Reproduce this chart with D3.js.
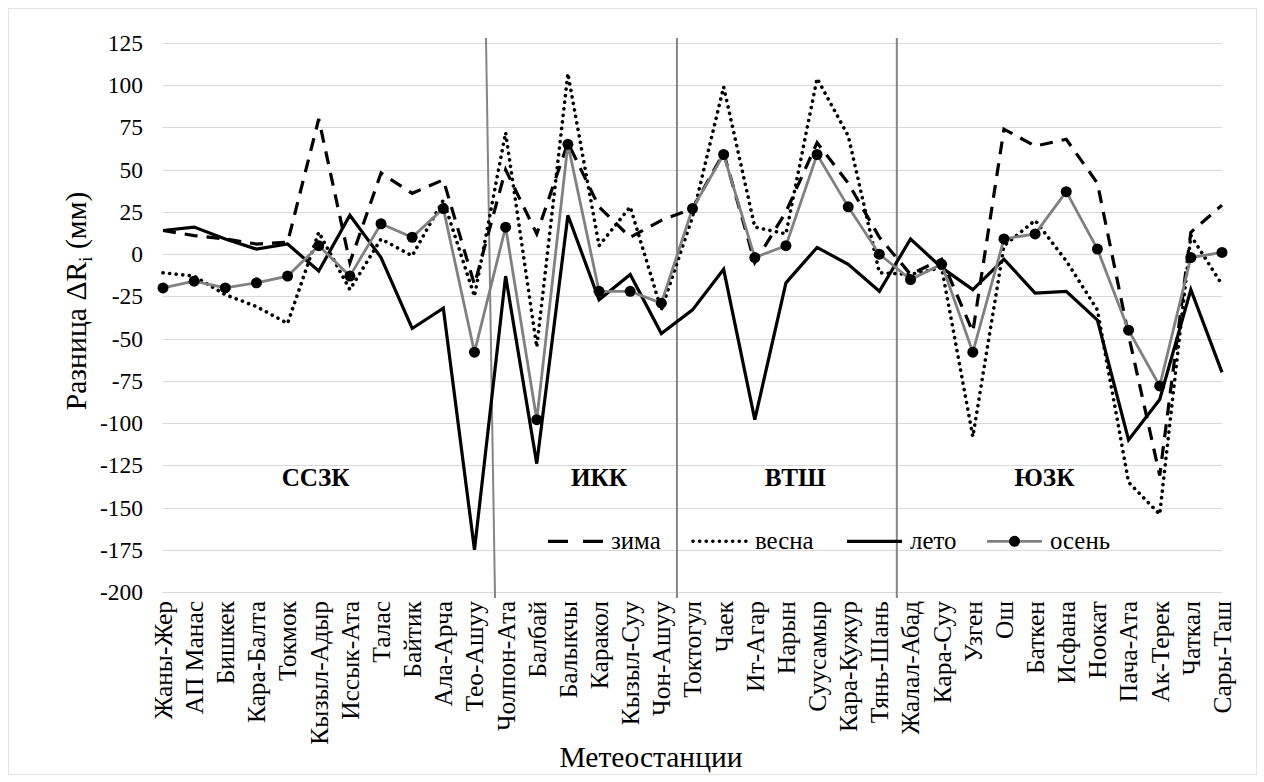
<!DOCTYPE html>
<html>
<head>
<meta charset="utf-8">
<script src="https://cdn.jsdelivr.net/npm/d3@7"></script>
<style>
  html, body { margin: 0; padding: 0; background: #fff; }
  svg { display: block; }
  svg text { font-family: "Liberation Serif", "DejaVu Serif", "Noto Serif", serif; fill: #000; }
</style>
</head>
<body>
<svg id="chart" width="1264" height="782"></svg>
<script>
// Метеостанции
const stations = ["Жаны-Жер", "АП Манас", "Бишкек", "Кара-Балта", "Токмок", "Кызыл-Адыр",
  "Иссык-Ата", "Талас", "Байтик", "Ала-Арча", "Тео-Ашуу", "Чолпон-Ата", "Балбай", "Балыкчы",
  "Каракол", "Кызыл-Суу", "Чон-Ашуу", "Токтогул", "Чаек", "Ит-Агар", "Нарын", "Суусамыр",
  "Кара-Кужур", "Тянь-Шань", "Жалал-Абад", "Кара-Суу", "Узген", "Ош", "Баткен", "Исфана",
  "Ноокат", "Пача-Ата", "Ак-Терек", "Чаткал", "Сары-Таш"];

// Разница ΔR (мм) по сезонам
const winter = [14, 11, 9, 6, 7, 80, -5, 48, 36, 44, -18, 50, 12, 66, 28, 10, 20, 27, 60, -5,
  25, 66, 42, 10, -12, -3, -46, 74, 64, 68, 42, -48, -131, 13, 29];
const spring = [-11, -13, -24, -31, -41, 13, -21, 9, -1, 32, -25, 72, -55, 107, 5, 28, -33, 22,
  99, 16, 12, 104, 70, -11, -12, -8, -108, 5, 20, -4, -33, -135, -154, 11, -18];
const summer = [14, 16, 9, 3, 6, -10, 23, -2, -44, -32, -175, -13, -124, 23, -27, -12, -47, -33,
  -9, -98, -17, 4, -6, -22, 9, -8, -21, -3, -23, -22, -39, -110, -86, -21, -70];
const autumn = [-20, -16, -20, -17, -13, 5, -13, 18, 10, 27, -58, 16, -98, 65, -22, -22, -29, 27,
  59, -2, 5, 59, 28, 0, -15, -6, -58, 9, 12, 37, 3, -45, -78, -2, 1];

const yTicks = [-200, -175, -150, -125, -100, -75, -50, -25, 0, 25, 50, 75, 100, 125];

// Регионы и границы между ними (в единицах индекса станции)
const regions = ["ССЗК", "ИКК", "ВТШ", "ЮЗК"];
const regionCenters = [4.9, 14.0, 20.3, 28.3];
const dividerTop = [10.37, 16.5, 23.56];
const dividerBottom = [10.66, 16.5, 23.56];

const seriesNames = ["зима", "весна", "лето", "осень"];

const svg = d3.select("#chart");

// подбирает кегль так, чтобы выбранные надписи заняли нужную длину
function fitFont(sel, pick, targetLength) {
  const base = 20;
  sel.attr("font-size", base);
  const nodes = sel.nodes().filter(pick);
  const len = d3.sum(nodes, n => n.getComputedTextLength());
  const size = len > 0 ? base * targetLength / len : base;
  sel.attr("font-size", size);
  return size;
}

// внешняя рамка
svg.append("rect").attr("x", 8.5).attr("y", 8.5).attr("width", 1248).attr("height", 766)
  .attr("fill", "none").attr("stroke", "#e3e3e3").attr("stroke-width", 1);

const x = d3.scalePoint().domain(d3.range(stations.length)).range([163, 1222]).padding(0);
const xi = d3.scaleLinear().domain([0, stations.length - 1]).range([163, 1222]);
const y = d3.scaleLinear().domain([-200, 125]).range([592, 43]);

// сетка
svg.append("g").selectAll("line").data(yTicks).join("line")
  .attr("x1", 163).attr("x2", 1222)
  .attr("y1", d => Math.round(y(d)) + 0.5).attr("y2", d => Math.round(y(d)) + 0.5)
  .attr("stroke", "#d9d9d9").attr("stroke-width", 1);

// ось Y (дефис вместо знака минус)
const yAxis = d3.axisLeft(y).tickValues(yTicks).tickSize(0).tickPadding(0)
  .tickFormat(d => String(d));
const gy = svg.append("g").attr("transform", "translate(143,0)").call(yAxis)
  .attr("font-family", null).attr("font-size", null);
gy.select(".domain").remove();
fitFont(gy.selectAll("text"), n => n.textContent === "-200", 43);

// ось X (подписи станций)
const xAxis = d3.axisBottom(x).tickSize(0).tickPadding(0).tickFormat(i => stations[i]);
const gx = svg.append("g").attr("transform", "translate(0,592)").call(xAxis)
  .attr("font-family", null).attr("font-size", null);
gx.select(".domain").remove();
const catText = gx.selectAll("text")
  .attr("text-anchor", "end")
  .attr("dy", null).attr("y", 0);
const catSize = fitFont(catText, n => n.textContent === "Жаны-Жер" || n.textContent === "Кызыл-Адыр", 262);
catText.attr("transform", `translate(${catSize * 0.33},9) rotate(-90)`);

// разделители регионов
svg.append("g").selectAll("line").data(dividerTop).join("line")
  .attr("x1", d => xi(d)).attr("y1", y(128))
  .attr("x2", (d, i) => xi(dividerBottom[i])).attr("y2", y(-203.5))
  .attr("stroke", "#858585").attr("stroke-width", 2);

// названия регионов
const regText = svg.append("g").selectAll("text").data(regions).join("text")
  .attr("x", (d, i) => xi(regionCenters[i])).attr("y", y(-137.5))
  .attr("text-anchor", "middle").attr("font-weight", "bold")
  .text(d => d);
fitFont(regText, n => n.textContent === "ССЗК", 68);

const line = d3.line().x((d, i) => x(i)).y(d => y(d));

const styles = {
  "зима": { data: winter, stroke: "#000", width: 3.2, dash: "13,9", cap: "butt" },
  "весна": { data: spring, stroke: "#000", width: 3.6, dash: "0.1,6.5", cap: "round" },
  "лето": { data: summer, stroke: "#000", width: 3.2, dash: null, cap: "butt" },
  "осень": { data: autumn, stroke: "#808080", width: 2.8, dash: null, cap: "butt" }
};

const plot = svg.append("g");
seriesNames.forEach(name => {
  const s = styles[name];
  plot.append("path").datum(s.data)
    .attr("d", line)
    .attr("fill", "none")
    .attr("stroke", s.stroke)
    .attr("stroke-width", s.width)
    .attr("stroke-linejoin", "miter")
    .attr("stroke-linecap", s.cap)
    .attr("stroke-dasharray", s.dash);
});
plot.append("g").selectAll("circle").data(autumn).join("circle")
  .attr("cx", (d, i) => x(i)).attr("cy", d => y(d)).attr("r", 5.5).attr("fill", "#000");

// легенда
const legendX = [548, 693, 847, 987];
const legendY = y(-170);
const lg = svg.append("g");
seriesNames.forEach((name, k) => {
  const s = styles[name];
  const g = lg.append("g").attr("transform", `translate(${legendX[k]},${legendY})`);
  const w = name === "весна" ? 54 : 55;
  g.append("line").attr("x1", 0).attr("x2", w).attr("y1", 0).attr("y2", 0)
    .attr("stroke", s.stroke).attr("stroke-width", s.width)
    .attr("stroke-linecap", s.cap)
    .attr("stroke-dasharray", name === "зима" ? "20,15" : s.dash);
  if (name === "осень") g.append("circle").attr("cx", w / 2).attr("cy", 0).attr("r", 5.5).attr("fill", "#000");
  g.append("text").attr("x", w + 8).attr("y", 0).attr("dy", "0.32em")
    .text(name);
});
fitFont(lg.selectAll("text"), n => n.textContent === "осень", 60);

// подпись оси X
const xTitle = svg.append("text").attr("x", 651).attr("y", 767).attr("text-anchor", "middle")
  .text("Метеостанции");
fitFont(xTitle, () => true, 183);

// подпись оси Y
const yt = svg.append("text").attr("transform", "translate(86,301) rotate(-90)")
  .attr("text-anchor", "middle");
yt.append("tspan").text("Разница ΔR");
yt.append("tspan").attr("class", "sub").attr("dy", 6).text("i");
yt.append("tspan").attr("dy", -6).text(" (мм)");
const ySize = fitFont(yt, () => true, 222);
yt.select(".sub").attr("font-size", ySize * 0.62);
</script>
</body>
</html>
